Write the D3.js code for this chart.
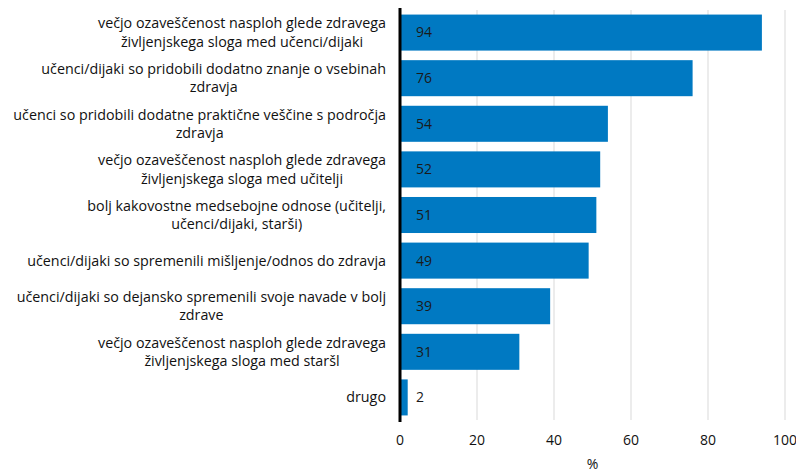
<!DOCTYPE html>
<html>
<head>
<meta charset="utf-8">
<script src="https://cdn.jsdelivr.net/npm/d3@7"></script>
<style>
  body { margin: 0; background: #fff; }
  text { font-family: "Open Sans", "Noto Sans", sans-serif; }
</style>
</head>
<body>
<div id="canvas"></div>
<script>
// categories, each as its wrapped lines
const categories = [
  ["večjo ozaveščenost nasploh glede zdravega", "življenjskega sloga med učenci/dijaki"],
  ["učenci/dijaki so pridobili dodatno znanje o vsebinah", "zdravja"],
  ["učenci so pridobili dodatne praktične veščine s področja", "zdravja"],
  ["večjo ozaveščenost nasploh glede zdravega", "življenjskega sloga med učitelji"],
  ["bolj kakovostne medsebojne odnose (učitelji,", "učenci/dijaki, starši)"],
  ["učenci/dijaki so spremenili mišljenje/odnos do zdravja"],
  ["učenci/dijaki so dejansko spremenili svoje navade v bolj", "zdrave"],
  ["večjo ozaveščenost nasploh glede zdravega", "življenjskega sloga med staršl"],
  ["drugo"]
];
const values = [94, 76, 54, 52, 51, 49, 39, 31, 2];
const xTicks = [0, 20, 40, 60, 80, 100];

const width = 796;
const height = 473;
const margin = { top: 10, left: 400, bottom: 53, right: 11 };
const iwidth = width - margin.left - margin.right;
const iheight = height - margin.top - margin.bottom;

const svg = d3.select("#canvas").append("svg")
  .attr("width", width)
  .attr("height", height);

const g = svg.append("g")
  .attr("transform", `translate(${margin.left},${margin.top})`);

const x = d3.scaleLinear().domain([0, 100]).range([0, iwidth]);
const y = d3.scaleBand()
  .domain(d3.range(categories.length))
  .range([0, iheight])
  .paddingInner(0.21)
  .paddingOuter(0.1);

// gridlines
g.selectAll("line.grid")
  .data(xTicks.slice(1))
  .enter()
  .append("line")
  .attr("class", "grid")
  .attr("x1", (d) => x(d))
  .attr("x2", (d) => x(d))
  .attr("y1", 0)
  .attr("y2", iheight)
  .style("stroke", "#d9d9d9")
  .style("stroke-width", 1);

g.selectAll("rect")
  .data(values)
  .enter()
  .append("rect")
  .attr("x", x(0))
  .attr("y", (d, i) => y(i))
  .attr("width", (d) => x(d) - x(0))
  .attr("height", y.bandwidth())
  .style("fill", "#0079c2");

g.selectAll("text.val")
  .data(values)
  .enter()
  .append("text")
  .attr("class", "val")
  .attr("x", x(0) + 16)
  .attr("y", (d, i) => y(i) + y.bandwidth() / 2)
  .attr("dy", "0.35em")
  .style("font-size", "14px")
  .style("fill", "#1a1a1a")
  .text((d) => d);

// category labels: block right-aligned, lines centred in the block
const lineH = 18.5;
const labels = g.selectAll("g.cat")
  .data(categories)
  .enter()
  .append("g")
  .attr("class", "cat")
  .attr("transform", (d, i) => `translate(0,${y(i) + y.bandwidth() / 2})`);

labels.each(function (lines) {
  const grp = d3.select(this);
  const ts = lines.map((l, k) =>
    grp.append("text")
      .attr("y", (k - (lines.length - 1) / 2) * lineH)
      .attr("dy", "0.35em")
      .style("font-size", "14.3px")
      .style("fill", "#111")
      .text(l)
  );
  const widths = ts.map((t) => t.node().getComputedTextLength());
  const w = d3.max(widths);
  const cx = -14 - w / 2;
  ts.forEach((t) => t.attr("x", cx).attr("text-anchor", "middle"));
});

// x axis labels
g.selectAll("text.tick")
  .data(xTicks)
  .enter()
  .append("text")
  .attr("class", "tick")
  .attr("x", (d) => x(d))
  .attr("y", iheight + 25)
  .attr("text-anchor", "middle")
  .style("font-size", "14px")
  .style("fill", "#111")
  .text((d) => d);

g.append("text")
  .attr("x", x(50))
  .attr("y", iheight + 49)
  .attr("text-anchor", "middle")
  .style("font-size", "14px")
  .style("fill", "#111")
  .text("%");

// axis line at zero
g.append("line")
  .attr("x1", x(0))
  .attr("x2", x(0))
  .attr("y1", -2)
  .attr("y2", iheight + 2)
  .style("stroke", "#000")
  .style("stroke-width", 3);
</script>
</body>
</html>
